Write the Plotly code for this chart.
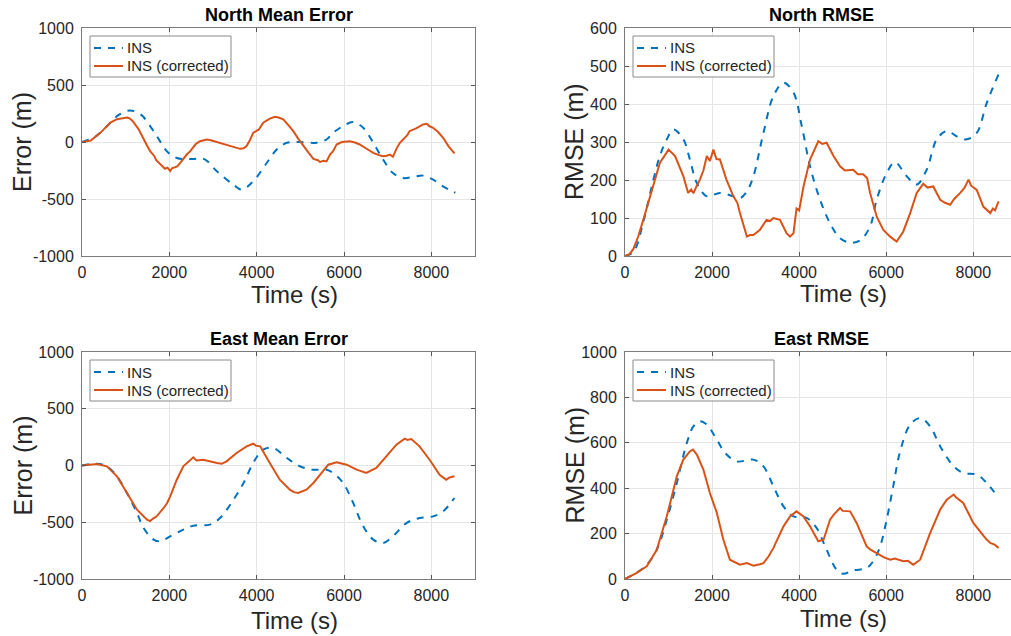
import plotly.graph_objects as go

# ---------------- data ----------------
x_ticks = [0, 2000, 4000, 6000, 8000]
x_tick_labels = ["0", "2000", "4000", "6000", "8000"]
err_ticks = [-1000, -500, 0, 500, 1000]
err_tick_labels = ["-1000", "-500", "0", "500", "1000"]
nrmse_ticks = [0, 100, 200, 300, 400, 500, 600]
nrmse_tick_labels = ["0", "100", "200", "300", "400", "500", "600"]
ermse_ticks = [0, 200, 400, 600, 800, 1000]
ermse_tick_labels = ["0", "200", "400", "600", "800", "1000"]
legend_labels = ["INS", "INS (corrected)"]

# North Mean Error
t_nme_ins = [0, 300, 600, 850, 1100, 1350, 1560, 1750, 1940, 2170, 2500, 2800, 3090, 3470, 3660,
             3920, 4230, 4460, 4690, 4990, 5370, 5600, 5750, 5980, 6210, 6440, 6670, 6895, 7120,
             7350, 7600, 7810, 8040, 8270, 8550]
nme_ins = [0, 45, 150, 240, 277, 240, 140, 30, -80, -140, -150, -150, -257, -375, -418,
           -345, -184, -66, -7, 0, -7, 22, 80, 140, 175, 125, -7, -154, -272,
           -316, -305, -295, -330, -389, -445]
t_nme_cor = [0, 200, 420, 650, 800, 950, 1030, 1100, 1180, 1300, 1410, 1500, 1560, 1650, 1700, 1790,
             1900, 1960, 2020, 2060, 2100, 2180, 2250, 2330, 2400, 2480, 2600, 2700, 2860, 2950, 3090,
             3250, 3390, 3520, 3620, 3700, 3770, 3850, 3920, 4050, 4150, 4300, 4420, 4500, 4610, 4720,
             4840, 4950, 5070, 5200, 5300, 5400, 5450, 5530, 5600, 5680, 5750, 5830, 5950, 6130, 6250,
             6360, 6500, 6670, 6800, 6895, 6980, 7050, 7120, 7200, 7280, 7400, 7450, 7500, 7650, 7810,
             7900, 7950, 8040, 8150, 8270, 8400, 8530]
nme_cor = [0, 12, 80, 170, 200, 213, 215, 205, 175, 110, 22, -40, -80, -120, -160, -198,
           -235, -225, -255, -230, -225, -215, -184, -140, -110, -80, -20, 7, 22, 15, 0,
           -20, -37, -50, -60, -55, -35, 20, 80, 110, 169, 205, 222, 215, 198, 150,
           95, 30, -37, -100, -148, -160, -175, -165, -170, -110, -80, -22, 0, 7, -5,
           -22, -55, -95, -115, -125, -120, -110, -130, -60, -7, 40, 60, 95, 120, 154,
           160, 140, 125, 90, 37, -40, -100]

# North RMSE
t_nr_ins = [0, 200, 420, 650, 800, 960, 1110, 1340, 1490, 1650, 1880, 2180, 2490, 2640, 2800, 2950,
            3180, 3410, 3640, 3870, 4060, 4250, 4480, 4710, 4940, 5170, 5400, 5630, 5780, 6010, 6200,
            6470, 6700, 6930, 7160, 7390, 7620, 7850, 8080, 8310, 8580]
nr_ins = [0, 12, 90, 200, 263, 307, 333, 307, 254, 192, 157, 166, 157, 152, 170, 210,
          324, 421, 456, 430, 342, 236, 148, 86, 47, 35, 41, 78, 148, 218, 247,
          210, 188, 227, 307, 329, 315, 307, 324, 403, 478]
t_nr_cor = [0, 100, 190, 300, 420, 650, 800, 1000, 1150, 1340, 1450, 1520, 1570, 1650, 1720, 1800,
            1880, 1950, 2030, 2100, 2180, 2330, 2490, 2580, 2640, 2800, 2870, 2950, 3100, 3250, 3330,
            3410, 3560, 3710, 3790, 3870, 3940, 4000, 4100, 4250, 4440, 4530, 4630, 4790, 4940, 5050,
            5240, 5350, 5470, 5560, 5630, 5780, 5930, 6090, 6240, 6390, 6550, 6700, 6850, 6950, 7080,
            7240, 7350, 7470, 7560, 7700, 7800, 7890, 7950, 8080, 8230, 8390, 8450, 8500, 8580]
nr_cor = [0, 5, 18, 50, 95, 183, 245, 280, 263, 210, 166, 175, 165, 185, 201, 225,
          263, 250, 280, 255, 254, 201, 157, 140, 113, 51, 55, 55, 69, 95, 92,
          100, 95, 60, 51, 60, 125, 120, 183, 254, 302, 295, 298, 263, 236, 225,
          227, 215, 215, 205, 166, 104, 69, 51, 38, 64, 113, 166, 190, 180, 183,
          148, 140, 135, 150, 166, 180, 201, 185, 174, 130, 113, 125, 120, 144]

# East Mean Error
t_eme_ins = [0, 340, 570, 800, 1030, 1260, 1410, 1640, 1790, 2020, 2320, 2550, 2930, 3160, 3470,
             3700, 3920, 4150, 4380, 4690, 4990, 5300, 5600, 5750, 5980, 6210, 6440, 6670, 6895,
             7120, 7430, 7730, 8040, 8270, 8530]
eme_ins = [0, 16, -7, -95, -242, -418, -551, -653, -668, -624, -565, -530, -521, -463, -301,
           -154, 22, 140, 154, 66, -7, -37, -37, -66, -154, -330, -536, -653, -683,
           -624, -507, -463, -448, -404, -286]
t_eme_cor = [0, 340, 570, 800, 1030, 1260, 1490, 1560, 1620, 1710, 1870, 1950, 2020, 2170, 2320, 2480,
             2550, 2620, 2780, 3090, 3200, 3310, 3540, 3770, 3920, 3980, 4080, 4300, 4530, 4760,
             4850, 4950, 5050, 5140, 5300, 5450, 5640, 5830, 6060, 6290, 6400, 6510, 6740, 6970,
             7200, 7390, 7450, 7540, 7730, 7960, 8190, 8340, 8420, 8530]
eme_cor = [0, 13, -7, -95, -242, -389, -477, -490, -470, -448, -374, -330, -272, -125, -7, 51,
           72, 45, 51, 22, 15, 37, 110, 169, 192, 175, 169, 22, -125, -213,
           -235, -242, -225, -213, -154, -81, 7, 28, 7, -37, -55, -66, -22, 81,
           184, 236, 225, 233, 169, 51, -81, -125, -105, -95]

# East RMSE
t_er_ins = [0, 250, 500, 730, 960, 1190, 1420, 1570, 1720, 1880, 2110, 2300, 2570, 2950, 3180, 3410,
            3640, 3870, 4170, 4400, 4630, 4860, 5010, 5240, 5550, 5700, 5860, 6010, 6160, 6310, 6550,
            6780, 7010, 7240, 7550, 7770, 8080, 8310, 8580]
er_ins = [0, 25, 63, 129, 261, 423, 599, 672, 695, 680, 614, 555, 518, 526, 496, 408,
          320, 276, 269, 225, 129, 41, 23, 38, 48, 78, 144, 261, 408, 555, 680,
          709, 672, 584, 496, 467, 460, 423, 357]
t_er_cor = [0, 250, 500, 730, 960, 1190, 1340, 1490, 1560, 1650, 1800, 1950, 2110, 2260, 2410, 2500,
            2640, 2800, 2950, 3100, 3180, 3300, 3410, 3640, 3790, 3940, 4100, 4250, 4440, 4560,
            4710, 4800, 4940, 5000, 5170, 5320, 5550, 5630, 5700, 5860, 5950, 6090, 6200, 6390,
            6500, 6620, 6780, 7010, 7240, 7390, 7550, 7600, 7770, 8000, 8230, 8300, 8390, 8500, 8580]
er_cor = [0, 25, 56, 129, 276, 452, 526, 562, 570, 548, 482, 379, 291, 173, 85, 75,
          63, 70, 59, 65, 70, 100, 137, 232, 276, 298, 276, 232, 166, 173,
          261, 285, 313, 300, 298, 247, 144, 130, 122, 107, 95, 85, 90, 78,
          80, 63, 85, 203, 306, 349, 372, 360, 335, 247, 188, 175, 159, 150, 137]

BLUE = "#0072BD"
ORANGE = "#D95319"
FONT = "Liberation Sans, Arial, Helvetica, sans-serif"
TXT = "#262626"
DASH = "7px,7px"

W, H = 1011, 636


def px_x(p):
    return p / W


def px_y(p):
    return 1 - p / H


panels = [
    ("North Mean Error", t_nme_ins, nme_ins, t_nme_cor, nme_cor, "Error (m)", [-1000, 1000],
     err_ticks, err_tick_labels, (82, 475), (28, 256), [0, 9000], 279, 294, 22, 295),
    ("North RMSE", t_nr_ins, nr_ins, t_nr_cor, nr_cor, "RMSE (m)", [0, 600],
     nrmse_ticks, nrmse_tick_labels, (625, 1011), (28, 256), [0, 8866], 821, 843, 574, 293),
    ("East Mean Error", t_eme_ins, eme_ins, t_eme_cor, eme_cor, "Error (m)", [-1000, 1000],
     err_ticks, err_tick_labels, (82, 475), (352, 579), [0, 9000], 279, 294, 22, 620),
    ("East RMSE", t_er_ins, er_ins, t_er_cor, er_cor, "RMSE (m)", [0, 1000],
     ermse_ticks, ermse_tick_labels, (625, 1011), (352, 579), [0, 8866], 821, 843, 574, 618),
]

fig = go.Figure()
annotations = []
shapes = []
layout = dict(
    width=W, height=H, autosize=False,
    margin=dict(l=0, r=0, t=0, b=0, pad=0, autoexpand=False),
    paper_bgcolor="white", plot_bgcolor="white",
    font=dict(family=FONT, color=TXT, size=15),
    showlegend=False,
)

for i, (title, ti, yi, tc, yc, ylab, yr, yt, ytl, xd, yd, xr, tx, xlx, ylx, xly) in enumerate(panels):
    n = i + 1
    xa = "x" if n == 1 else f"x{n}"
    ya = "y" if n == 1 else f"y{n}"
    fig.add_trace(go.Scatter(x=ti, y=yi, mode="lines", name=legend_labels[0],
                             line=dict(color=BLUE, width=2, dash=DASH, shape="spline", smoothing=1.0),
                             xaxis=xa, yaxis=ya))
    fig.add_trace(go.Scatter(x=tc, y=yc, mode="lines", name=legend_labels[1],
                             line=dict(color=ORANGE, width=2),
                             xaxis=xa, yaxis=ya))
    right_cut = xd[1] >= W
    xkey = "xaxis" if n == 1 else f"xaxis{n}"
    ykey = "yaxis" if n == 1 else f"yaxis{n}"
    layout[xkey] = dict(
        domain=[px_x(xd[0]), px_x(xd[1])], anchor=ya, range=xr, automargin=False,
        tickvals=x_ticks, ticktext=x_tick_labels, ticks="inside", ticklen=4, tickcolor="#555",
        showline=True, linecolor="#7a7a7a", linewidth=1, mirror="ticks",
        showgrid=True, gridcolor="#e5e5e5", gridwidth=1, zeroline=False,
        tickfont=dict(size=16, color=TXT), ticklabelstandoff=2,
    )
    layout[ykey] = dict(
        domain=[px_y(yd[1]), px_y(yd[0])], anchor=xa, range=yr, automargin=False,
        tickvals=yt, ticktext=ytl, ticks="inside", ticklen=4, tickcolor="#555",
        showline=True, linecolor="#7a7a7a", linewidth=1, mirror=(False if right_cut else "ticks"),
        showgrid=True, gridcolor="#e5e5e5", gridwidth=1, zeroline=False,
        tickfont=dict(size=16, color=TXT), ticklabelstandoff=4,
    )

    # legend box (MATLAB style, compact)
    lx0, ly0 = xd[0] + 8, yd[0] + 8
    lx1, ly1 = lx0 + 141, ly0 + 41
    shapes.append(dict(type="rect", xref="paper", yref="paper",
                       x0=px_x(lx0), x1=px_x(lx1), y0=px_y(ly1), y1=px_y(ly0),
                       line=dict(color="#8a8a8a", width=1), fillcolor="white", layer="above"))
    rows = [(ly0 + 12, BLUE, DASH, legend_labels[0]), (ly0 + 30, ORANGE, "solid", legend_labels[1])]
    for ry, col, dash, lab in rows:
        shapes.append(dict(type="line", xref="paper", yref="paper",
                           x0=px_x(lx0 + 4), x1=px_x(lx0 + 33), y0=px_y(ry), y1=px_y(ry),
                           line=dict(color=col, width=2, dash=dash), layer="above"))
        annotations.append(dict(text=lab, x=px_x(lx0 + 35), y=px_y(ry), xref="paper", yref="paper",
                                showarrow=False, xanchor="left", yanchor="middle",
                                font=dict(size=15, color=TXT)))

    annotations.append(dict(text=f"<b>{title}</b>", x=px_x(tx), y=px_y(yd[0] - 13), xref="paper", yref="paper",
                            showarrow=False, font=dict(size=18, color="black"), xanchor="center", yanchor="middle"))
    annotations.append(dict(text="Time (s)", x=px_x(xlx), y=px_y(xly), xref="paper", yref="paper",
                            showarrow=False, font=dict(size=24, color=TXT), xanchor="center", yanchor="middle"))
    annotations.append(dict(text=ylab, x=px_x(ylx), y=px_y((yd[0] + yd[1]) / 2), xref="paper", yref="paper",
                            showarrow=False, textangle=-90, font=dict(size=25, color=TXT),
                            xanchor="center", yanchor="middle"))

layout["annotations"] = annotations
layout["shapes"] = shapes
fig.update_layout(**layout)
fig.write_html("out.html")
